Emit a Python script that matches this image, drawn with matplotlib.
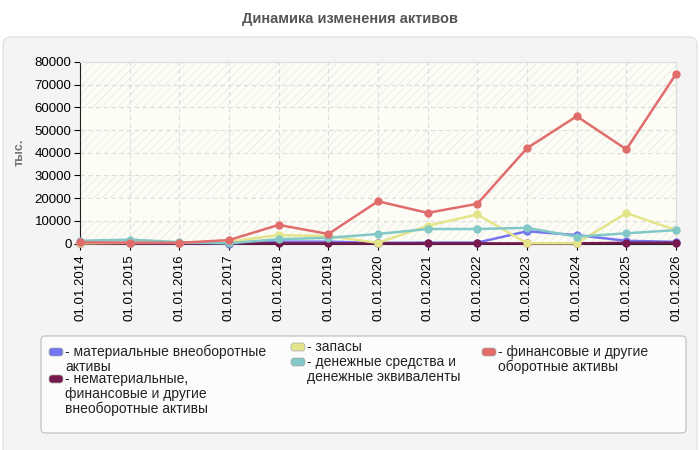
import matplotlib
matplotlib.use("Agg")
import matplotlib.pyplot as plt
from matplotlib.patches import FancyBboxPatch, Rectangle
from matplotlib.transforms import IdentityTransform

plt.rcParams['font.family'] = ['Liberation Sans', 'DejaVu Sans']
plt.rcParams['hatch.linewidth'] = 0.7

# Data
dates = ['01.01.2014', '01.01.2015', '01.01.2016', '01.01.2017', '01.01.2018',
         '01.01.2019', '01.01.2020', '01.01.2021', '01.01.2022', '01.01.2023',
         '01.01.2024', '01.01.2025', '01.01.2026']
tangible = [200, 200, 100, 0, 800, 800, 300, 400, 400, 5400, 3700, 1200, 700]
intangible = [50, 50, 50, 50, 50, 50, 50, 50, 50, 50, 50, 300, 300]
stocks = [100, 300, 300, 800, 3700, 3300, 300, 7800, 12800, 100, 100, 13400, 5900]
cash = [1200, 1700, 600, 100, 1900, 2500, 4200, 6400, 6400, 6900, 3000, 4500, 5900]
financial = [500, 400, 300, 1500, 8200, 4200, 18600, 13500, 17500, 42000, 56100, 41500, 74700]

series_labels = ['- материальные внеоборотные\nактивы',
                 '- нематериальные,\nфинансовые и другие\nвнеоборотные активы',
                 '- запасы',
                 '- денежные средства и\nденежные эквиваленты',
                 '- финансовые и другие\nоборотные активы']
colors = ['#7474ee', '#76194f', '#e4e48a', '#82c8c6', '#e06c6c']

W, H = 700, 450
fig = plt.figure(figsize=(W / 100, H / 100), dpi=100)
fig.patch.set_facecolor('white')


def px(x, y):
    return x / W, 1 - y / H


# rounded grey panel behind the chart
fig.patches.append(FancyBboxPatch((3, -20), 694, H - 37 + 20,
                                  boxstyle='round,pad=0,rounding_size=8',
                                  transform=IdentityTransform(), zorder=-5,
                                  facecolor='#f4f4f4', edgecolor='#e2e2e2', lw=1))

fig.text(0.5, 1 - 19 / H, 'Динамика изменения активов', ha='center', va='center',
         fontsize=10.5, fontweight='bold', color='#555555')

ax = fig.add_axes([80 / W, 1 - 243.5 / H, 596 / W, 181.5 / H])
ax.set_facecolor('none')
ax.add_patch(Rectangle((0, 0), 1, 1, transform=ax.transAxes, facecolor='#fdfdf6',
                       edgecolor='#ececec', lw=0, hatch='////', zorder=0))
for lo in (10000, 30000, 50000):
    ax.axhspan(lo, lo + 10000, facecolor='#fdfdf6', edgecolor='none', zorder=0.5)

x = list(range(len(dates)))
for vals, col in zip([tangible, intangible, stocks, cash, financial], colors):
    ax.plot(x, vals, color=col, lw=1.8, marker='o', markersize=6,
            markeredgewidth=0, zorder=3, clip_on=False)

ax.set_xlim(0, len(dates) - 1)
ax.set_ylim(0, 80000)
ax.set_xticks(x)
ax.set_xticklabels(dates, rotation=90, fontsize=9.5)
ax.set_yticks(range(0, 80001, 10000))
ax.tick_params(axis='y', labelsize=9.5, length=4, width=0.8, pad=2)
ax.tick_params(axis='x', length=4, width=0.8, pad=4)
ax.grid(True, color='#dcdcdc', lw=0.8, linestyle=(0, (4, 3)), zorder=1)
ax.set_axisbelow(True)
for s in ('top', 'right'):
    ax.spines[s].set_color('#dddddd')
for s in ('left', 'bottom'):
    ax.spines[s].set_color('#222222')
    ax.spines[s].set_linewidth(0.8)
ax.set_ylabel('тыс.', fontsize=9, fontweight='bold', color='#777777')
ax.yaxis.set_label_coords(-0.092, 0.5)

# legend box
fig.patches.append(FancyBboxPatch((41, H - 433), 645, 97,
                                  boxstyle='round,pad=0,rounding_size=4',
                                  transform=IdentityTransform(), zorder=-4,
                                  facecolor='#fcfcfc', edgecolor='#bdbdbd', lw=0.8))
legend_pos = [(49, 352), (49, 379), (291, 347), (291, 362), (482, 352)]
for (lx, ly), lab, col in zip(legend_pos, series_labels, colors):
    fig.patches.append(FancyBboxPatch((lx, H - ly - 4), 14, 8,
                                      boxstyle='round,pad=0,rounding_size=3',
                                      transform=IdentityTransform(), zorder=-3,
                                      facecolor=col, edgecolor='#aaaaaa', lw=0.5))
    fig.text(*px(lx + 16, ly - 7), lab, ha='left', va='top', fontsize=10,
             color='#222222', linespacing=1.05)

fig.savefig('out.png', dpi=100)
